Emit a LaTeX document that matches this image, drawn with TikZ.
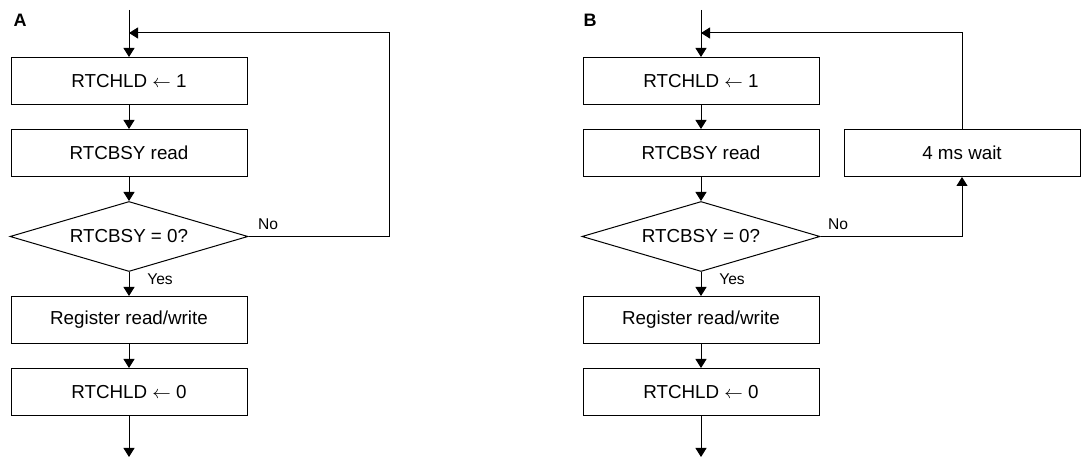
\documentclass[tikz,border=0pt]{standalone}
\usepackage{fontspec}
\setmainfont{Liberation Sans}
\usepackage{tikz}
\usetikzlibrary{shapes.geometric, arrows.meta, positioning}

\begin{document}
\begin{tikzpicture}[
  x=0.5pt, y=-0.5pt,
  node distance=12pt,
  box/.style={rectangle, minimum width=118pt, minimum height=23.5pt, text centered, draw=black, line width=0.5pt, font=\fontsize{9.4}{11}\selectfont},
  decision/.style={diamond, aspect=3.4, minimum width=119pt, minimum height=35pt, inner sep=0pt, text centered, draw=black, line width=0.5pt, font=\fontsize{9.4}{11}\selectfont},
  lbl/.style={inner sep=0pt, font=\fontsize{7.8}{9}\selectfont},
  panel/.style={inner sep=0pt, font=\fontsize{9}{10}\selectfont\bfseries},
  arrow/.style={line width=0.5pt,-{Triangle[length=4.5pt,width=5.5pt]}}
]
\useasboundingbox (0,0) rectangle (1081,458);

% panel A
\node (labA) [panel] at (20,20) {A};
\node (a1) [box] at (129,81) {RTCHLD $\leftarrow$ 1};
\node (a2) [box, below=of a1] {RTCBSY read};
\node (a3) [decision, below=of a2] {RTCBSY = 0?};
\node (a4) [box, below=of a3] {Register read/write};
\node (a5) [box, below=of a4] {RTCHLD $\leftarrow$ 0};
\node (ano) [lbl] at (268,224) {No};
\node (ayes) [lbl] at (160,279) {Yes};
\coordinate (atop) at (129,10);
\coordinate (ajoin) at (129,33);
\coordinate (aback) at (389,33);
\coordinate (aend) at (129,457);

\draw [arrow] (atop) -- (a1);
\draw [arrow] (a1) -- (a2);
\draw [arrow] (a2) -- (a3);
\draw [arrow] (a3) -- (a4);
\draw [arrow] (a4) -- (a5);
\draw [arrow] (a5) -- (aend);
\draw [arrow] (a3.east) -| (aback) -- (ajoin);

% panel B
\node (labB) [panel] at (590,20) {B};
\node (b1) [box] at (701,81) {RTCHLD $\leftarrow$ 1};
\node (b2) [box, below=of b1] {RTCBSY read};
\node (b3) [decision, below=of b2] {RTCBSY = 0?};
\node (b4) [box, below=of b3] {Register read/write};
\node (b5) [box, below=of b4] {RTCHLD $\leftarrow$ 0};
\node (bwait) [box, right=of b2] {4 ms wait};
\node (bno) [lbl] at (838,224) {No};
\node (byes) [lbl] at (732,279) {Yes};
\coordinate (btop) at (701,10);
\coordinate (bjoin) at (701,33);
\coordinate (bend) at (701,457);

\draw [arrow] (btop) -- (b1);
\draw [arrow] (b1) -- (b2);
\draw [arrow] (b2) -- (b3);
\draw [arrow] (b3) -- (b4);
\draw [arrow] (b4) -- (b5);
\draw [arrow] (b5) -- (bend);
\draw [arrow] (b3.east) -| (bwait.south);
\draw [arrow] (bwait.north) |- (bjoin);
\end{tikzpicture}
\end{document}
